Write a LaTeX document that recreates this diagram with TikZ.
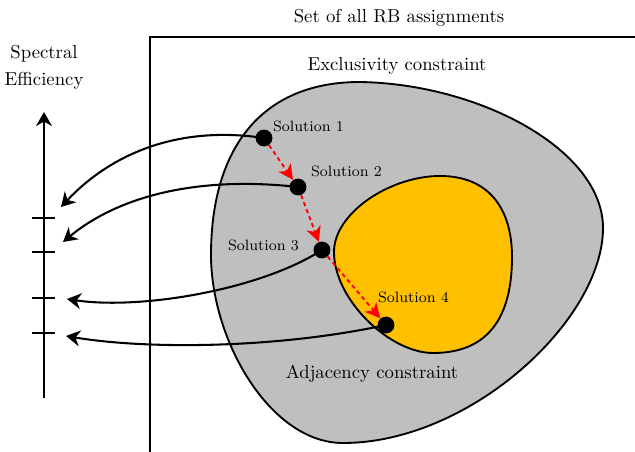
\documentclass[tikz,border=0pt]{standalone}
\usetikzlibrary{arrows.meta}
\definecolor{blobgray}{RGB}{191,191,191}
\definecolor{bloborange}{RGB}{255,192,0}
\tikzset{
  blobline/.style={line width=1pt},
  dot/.style={circle,fill=black,inner sep=0pt,minimum size=9pt},
  lab/.style={font=\footnotesize,inner sep=0pt},
  txt/.style={font=\normalsize,inner sep=0pt},
  conn/.style={line width=1.1pt,-{Stealth[length=7.5pt,width=8.5pt,inset=2.4pt]}},
  redarrow/.style={red,line width=1pt,dash pattern=on 2.2pt off 1.8pt,-{Stealth[length=8pt,width=8pt,inset=2.4pt]}},
  axisline/.style={line width=1.1pt,-{Stealth[length=7.5pt,width=8.5pt,inset=2.4pt]}},
  tickline/.style={line width=1.1pt}
}
\begin{document}
\begin{tikzpicture}[x=0.534pt,y=-0.534pt]
\clip (0,0) rectangle (635,452);
\useasboundingbox (0,0) rectangle (635,452);
% outer set
\draw[line width=1pt] (150,37) rectangle (636,453.5);
\node[txt] (title) at (399,18) {Set of all RB assignments};
\node[txt] (excl) at (397,66) {Exclusivity constraint};
% gray blob
\draw[blobline,fill=blobgray] (360,82)
  .. controls (480,84) and (603,150) .. (603,228)
  .. controls (603,320) and (470,443) .. (343,443)
  .. controls (270,443) and (211,340) .. (211,255)
  .. controls (211,150) and (260,82) .. cycle;
% orange blob
\draw[blobline,fill=bloborange] (334,252)
  .. controls (334,213) and (390,176) .. (440,176)
  .. controls (490,176) and (512,210) .. (512,257)
  .. controls (512,315) and (490,353) .. (433,353)
  .. controls (390,353) and (334,300) .. cycle;
\node[txt] (adj) at (372,374) {Adjacency constraint};
% axis
\coordinate (axb) at (44,398);
\coordinate (axt) at (44,112);
\draw[axisline] (axb) -- (axt);
\node[txt,align=center] (ylab) at (44,67.5) {Spectral\\[2.6pt]Efficiency};
\foreach \i/\y in {1/218,2/252,3/298,4/333}{
  \coordinate (tl\i) at (32,\y);
  \coordinate (tr\i) at (55,\y);
  \draw[tickline] (tl\i) -- (tr\i);
}
% targets
\coordinate (t1) at (61,207);
\coordinate (t2) at (63,242);
\coordinate (t3) at (67,299);
\coordinate (t4) at (66,336);
% solutions
\coordinate (c1) at (264,138);
\coordinate (c2) at (298,187);
\coordinate (c3) at (322,250);
\coordinate (c4) at (386,325);
\draw[conn] (c1) .. controls (170,124) and (105,160) .. (t1);
\draw[conn] (c2) .. controls (200,176) and (120,195) .. (t2);
\draw[conn] (c3) .. controls (260,290) and (140,310) .. (t3);
\draw[conn] (c4) .. controls (280,348) and (150,350) .. (t4);
\node[dot] (s1) at (c1) {};
\node[dot] (s2) at (c2) {};
\node[dot] (s3) at (c3) {};
\node[dot] (s4) at (c4) {};
\draw[redarrow] (s1) -- (s2);
\draw[redarrow] (s2) -- (s3);
\draw[redarrow] (s3) -- (s4);
\node[lab] (l1) at (308.5,126) {Solution 1};
\node[lab] (l2) at (346.5,171) {Solution 2};
\node[lab] (l3) at (263.5,245) {Solution 3};
\node[lab] (l4) at (413.5,297) {Solution 4};
\end{tikzpicture}
\end{document}
